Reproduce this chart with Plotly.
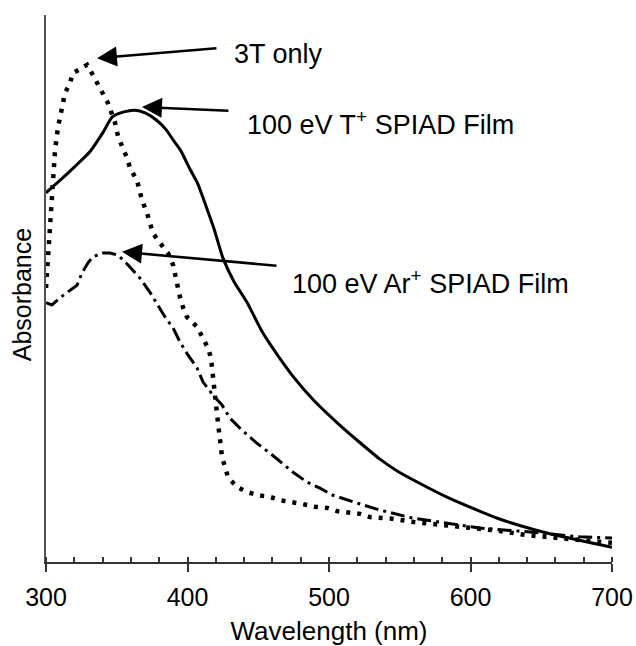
import plotly.graph_objects as go

# ---- data ----
wl_t = [300, 310, 320, 331, 340, 347, 355, 363, 370, 378, 385, 390, 395, 402, 407, 414, 419,
        425, 433, 442, 453, 464, 475, 489, 506, 522, 536, 549, 583, 619, 654, 700]
abs_t = [0.675, 0.698, 0.722, 0.750, 0.784, 0.814, 0.823, 0.826, 0.821, 0.808, 0.790, 0.771,
         0.753, 0.717, 0.693, 0.644, 0.607, 0.556, 0.512, 0.475, 0.420, 0.377, 0.338, 0.296,
         0.254, 0.218, 0.188, 0.165, 0.119, 0.080, 0.053, 0.027]

wl_3t = [300, 301.4, 302.8, 304.2, 306.4, 308.5, 311.3, 313.4, 317, 319, 322.6, 329, 333.2,
         339.6, 343.8, 348.8, 351, 357.2, 359.4, 364.3, 367.8, 371.4, 375.6, 380.6, 386.2,
         389.8, 392.6, 394.7, 396.8, 399.6, 406.7, 411, 414.5, 416.6, 418, 419.4, 420.8,
         421.6, 423, 424.4, 426.5, 428.6, 435, 442, 449.8, 458.3, 465.4, 473.9, 481.6, 490.1,
         498.6, 505.7, 513.4, 521.9, 529, 537.5, 545.2, 560, 580, 600, 620, 640, 660, 680, 700]
abs_3t = [0.501, 0.558, 0.631, 0.693, 0.753, 0.795, 0.832, 0.857, 0.876, 0.894, 0.899, 0.909,
          0.890, 0.857, 0.839, 0.803, 0.777, 0.739, 0.720, 0.698, 0.662, 0.638, 0.601, 0.583,
          0.565, 0.543, 0.506, 0.484, 0.466, 0.448, 0.430, 0.410, 0.391, 0.373, 0.333, 0.311,
          0.272, 0.254, 0.214, 0.192, 0.174, 0.155, 0.137, 0.128, 0.122, 0.119, 0.113, 0.110,
          0.106, 0.101, 0.099, 0.093, 0.091, 0.088, 0.082, 0.080, 0.079, 0.073, 0.068, 0.062,
          0.057, 0.049, 0.044, 0.038, 0.035]

wl_ar = [300, 304.2, 309.9, 314.8, 321.9, 325.4, 329.7, 333.2, 340.3, 345.2, 350.9, 358,
         366.4, 373.5, 379.2, 384.1, 389.8, 394.7, 400.4, 406.7, 411, 418, 424.4, 430, 438.5,
         449.1, 458.3, 465.4, 474.6, 484.5, 493.6, 502.8, 512.7, 521.9, 536, 545.2, 559.4,
         583.4, 606.7, 642, 677.4, 700]
abs_ar = [0.474, 0.470, 0.483, 0.492, 0.506, 0.528, 0.547, 0.558, 0.565, 0.565, 0.561, 0.543,
          0.519, 0.493, 0.470, 0.448, 0.428, 0.402, 0.378, 0.355, 0.329, 0.305, 0.287, 0.263,
          0.241, 0.217, 0.199, 0.183, 0.164, 0.146, 0.135, 0.122, 0.113, 0.106, 0.095, 0.089,
          0.080, 0.071, 0.062, 0.055, 0.046, 0.044]

x_ticks = [300, 400, 500, 600, 700]
labels = ["3T only", "100 eV T<sup>+</sup> SPIAD Film", "100 eV Ar<sup>+</sup> SPIAD Film"]

FONT = "Liberation Sans, Arial, Helvetica, sans-serif"

fig = go.Figure()
fig.add_trace(go.Scatter(x=wl_3t, y=abs_3t, mode="lines", name=labels[0],
                         line=dict(color="black", width=4.5, dash="4px,7px")))
fig.add_trace(go.Scatter(x=wl_t, y=abs_t, mode="lines", name=labels[1],
                         line=dict(color="black", width=3, shape="spline", smoothing=0.6)))
fig.add_trace(go.Scatter(x=wl_ar, y=abs_ar, mode="lines", name=labels[2],
                         line=dict(color="black", width=3, dash="14px,5px,3px,5px")))

# arrows (tip at curve peak, tail offset in pixels)
arrows = [
    dict(x=336, y=0.921, ax=121, ay=-10),
    dict(x=367.8, y=0.832, ax=88, ay=4),
    dict(x=353.7, y=0.567, ax=156, ay=14),
]
for a in arrows:
    fig.add_annotation(x=a["x"], y=a["y"], ax=a["ax"], ay=a["ay"], xref="x", yref="y",
                       text="", showarrow=True, arrowhead=2, arrowsize=1.6,
                       arrowwidth=2.5, arrowcolor="black", standoff=0)

# label anchor positions in plot-area fractions
text_pos = [(0.328, 0.929), (0.351, 0.802), (0.431, 0.512)]
for (fx, fy), t in zip(text_pos, labels):
    fig.add_annotation(x=fx, y=fy, xref="paper", yref="paper",
                       text=t, showarrow=False, xanchor="left", yanchor="middle",
                       font=dict(family=FONT, size=27, color="black"))

# y-axis title as annotation (slightly below plot centre, as in reference)
fig.add_annotation(x=-0.042, y=0.488, xref="paper", yref="paper", text="Absorbance",
                   showarrow=False, textangle=-90, xanchor="center", yanchor="middle",
                   font=dict(family=FONT, size=25, color="black"))

fig.update_layout(
    width=636, height=646,
    margin=dict(l=46, r=24, t=15, b=84),
    paper_bgcolor="white", plot_bgcolor="white",
    showlegend=False,
    font=dict(family=FONT, size=25, color="black"),
)
fig.update_xaxes(
    range=[300, 700], tickvals=x_ticks, ticktext=[str(v) for v in x_ticks],
    ticks="outside", ticklen=8, tickwidth=1.5, tickcolor="#333",
    minor=dict(dtick=20, ticks="inside", ticklen=5, tickwidth=1.5, tickcolor="#333"),
    showline=True, linecolor="#333", linewidth=2, showgrid=False, zeroline=False,
    ticklabelstandoff=4, automargin=False,
    tickfont=dict(size=25), title=dict(text="Wavelength (nm)", font=dict(size=26), standoff=14),
)
fig.update_yaxes(
    range=[0, 1], showticklabels=False, ticks="", showline=True, linecolor="#555",
    linewidth=2, showgrid=False, zeroline=False, automargin=False,
)

fig.write_html(
    "out.html",
    config={"displayModeBar": False},
    post_script="document.body.style.margin='0';document.body.style.overflow='hidden';",
)
